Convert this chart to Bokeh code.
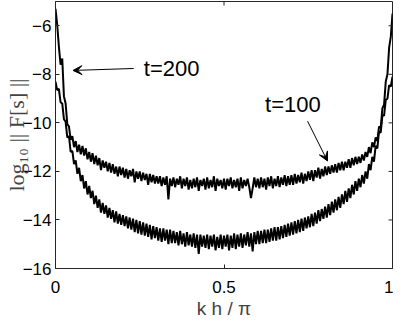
from bokeh.plotting import figure
from bokeh.models import FixedTicker, Label, Arrow, VeeHead, ColumnDataSource
from bokeh.embed import file_html
from bokeh.resources import INLINE

# ---------------- data ----------------
n_pts = 201
kh_over_pi = [i / (n_pts - 1) for i in range(n_pts)]

# t = 100 curve (upper, flatter band)
err_t100 = [
    -5.30, -5.95, -6.85, -7.60, -7.35, -8.90, -9.20, -10.05, -10.15, -10.70,
    -10.55, -11.00, -10.75, -11.20, -10.90, -11.30, -10.95, -11.35, -11.05, -11.50,
    -11.20, -11.60, -11.25, -11.70, -11.35, -11.75, -11.45, -11.95, -11.55, -11.85,
    -11.60, -12.00, -11.65, -12.05, -11.70, -12.10, -11.80, -12.20, -11.80, -12.15,
    -11.85, -12.25, -11.90, -12.30, -11.95, -12.20, -11.90, -12.45, -12.00, -12.30,
    -12.00, -12.40, -12.05, -12.35, -12.10, -12.55, -12.10, -12.45, -12.15, -12.50,
    -12.20, -12.50, -12.20, -12.60, -12.25, -12.55, -12.20, -13.15, -12.30, -12.60,
    -12.25, -12.65, -12.30, -12.55, -12.20, -12.70, -12.30, -12.60, -12.25, -12.75,
    -12.35, -12.70, -12.30, -12.65, -12.25, -12.80, -12.35, -12.60, -12.30, -12.75,
    -12.25, -12.70, -12.35, -12.65, -12.20, -12.80, -12.30, -12.60, -12.35, -12.70,
    -12.30, -12.75, -12.30, -12.60, -12.25, -12.70, -12.35, -12.65, -12.30, -12.80,
    -12.25, -12.70, -12.35, -12.60, -12.30, -12.65, -13.10, -12.70, -12.25, -12.65,
    -12.30, -12.70, -12.25, -12.65, -12.30, -12.75, -12.25, -12.60, -12.20, -12.70,
    -12.30, -12.60, -12.20, -12.65, -12.25, -12.55, -12.15, -12.60, -12.20, -12.55,
    -12.15, -12.55, -12.10, -12.50, -12.15, -12.45, -12.05, -12.50, -12.10, -12.40,
    -12.00, -12.35, -11.95, -12.40, -11.95, -12.25, -11.85, -12.30, -11.90, -12.20,
    -11.80, -12.15, -11.80, -12.10, -11.75, -12.05, -11.70, -12.05, -11.65, -11.95,
    -11.60, -11.95, -11.60, -11.85, -11.50, -11.85, -11.45, -11.75, -11.40, -11.70,
    -11.40, -11.65, -11.30, -11.55, -11.20, -11.40, -11.00, -11.25, -10.80, -11.00,
    -10.60, -10.75, -10.15, -10.20, -9.40, -9.25, -8.30, -8.00, -6.90, -6.45,
    -5.50,
]

# t = 200 curve (lower, deeper band)
err_t200 = [
    -8.30, -8.65, -8.60, -9.15, -9.20, -9.85, -9.95, -10.60, -10.55, -11.20,
    -11.15, -11.70, -11.55, -12.10, -11.85, -12.40, -12.15, -12.70, -12.40, -12.95,
    -12.60, -13.10, -12.80, -13.35, -13.00, -13.50, -13.15, -13.70, -13.30, -13.75,
    -13.40, -13.90, -13.50, -13.95, -13.60, -14.10, -13.65, -14.15, -13.75, -14.20,
    -13.80, -14.25, -13.85, -14.35, -13.90, -14.40, -13.95, -14.50, -14.00, -14.55,
    -14.05, -14.60, -14.10, -14.65, -14.15, -14.70, -14.20, -14.80, -14.25, -14.75,
    -14.30, -14.85, -14.35, -14.90, -14.35, -14.85, -14.40, -15.00, -14.40, -14.95,
    -14.45, -14.95, -14.50, -15.05, -14.45, -15.00, -14.55, -15.10, -14.50, -15.05,
    -14.60, -15.10, -14.55, -15.15, -14.60, -15.40, -14.60, -15.10, -14.65, -15.15,
    -14.60, -15.20, -14.65, -15.10, -14.60, -15.25, -14.70, -15.15, -14.60, -15.20,
    -14.65, -15.10, -14.60, -15.25, -14.65, -15.15, -14.55, -15.20, -14.60, -15.10,
    -14.55, -15.15, -14.60, -15.05, -14.50, -15.10, -14.55, -15.30, -14.50, -15.00,
    -14.45, -15.00, -14.45, -14.95, -14.40, -14.95, -14.40, -14.90, -14.35, -14.85,
    -14.30, -14.85, -14.30, -14.80, -14.25, -14.75, -14.20, -14.70, -14.15, -14.65,
    -14.10, -14.60, -14.05, -14.55, -14.00, -14.50, -13.95, -14.45, -13.90, -14.35,
    -13.85, -14.30, -13.75, -14.25, -13.70, -14.15, -13.60, -14.05, -13.55, -13.95,
    -13.45, -13.90, -13.35, -13.80, -13.25, -13.70, -13.15, -13.60, -13.05, -13.50,
    -12.95, -13.35, -12.80, -13.25, -12.70, -13.10, -12.55, -12.95, -12.40, -12.80,
    -12.30, -12.65, -12.15, -12.50, -12.00, -12.30, -11.70, -11.95, -11.40, -11.60,
    -10.95, -11.05, -10.35, -10.40, -9.70, -9.70, -9.05, -9.00, -8.45, -8.50,
    -8.10,
]

x_ticks = [0, 0.5, 1]
x_tick_labels = ["0", "0.5", "1"]
y_ticks = [-16, -14, -12, -10, -8, -6]

# annotation anchors (data coords)
lab200 = dict(text="t=200", x=0.262, y=-7.76)
arr200 = dict(x_start=0.232, y_start=-7.76, x_end=0.052, y_end=-7.84)
lab100 = dict(text="t=100", x=0.622, y=-9.24)
arr100 = dict(x_start=0.748, y_start=-9.93, x_end=0.807, y_end=-11.57)

# ---------------- figure ----------------
AX = "#262626"
SANS = "Liberation Sans"
X_RANGE = (0, 1)
Y_RANGE = (-16, -5)
W, H = 393, 323
B_LEFT, B_RIGHT, B_TOP, B_BOTTOM = 49, 1, 1, 55
TICK_PX = 4

p = figure(width=W, height=H, x_range=X_RANGE, y_range=Y_RANGE,
           output_backend="svg", toolbar_location=None,
           min_border_left=B_LEFT, min_border_right=B_RIGHT,
           min_border_top=B_TOP, min_border_bottom=B_BOTTOM)
p.grid.visible = False
p.background_fill_color = "white"
p.border_fill_color = "white"
p.outline_line_color = AX
p.outline_line_width = 1

src = ColumnDataSource(dict(x=kh_over_pi, a=err_t100, b=err_t200))
p.line("x", "a", source=src, line_color="black", line_width=2)
p.line("x", "b", source=src, line_color="black", line_width=2)

def style_axis(ax):
    ax.axis_line_color = AX
    ax.major_tick_line_color = AX
    ax.major_tick_in = TICK_PX
    ax.major_tick_out = 0
    ax.minor_tick_line_color = None
    ax.major_label_text_font = SANS
    ax.major_label_text_font_size = "17px"
    ax.major_label_text_color = "black"

xa = p.xaxis[0]
xa.ticker = FixedTicker(ticks=x_ticks)
xa.major_label_overrides = {t: s for t, s in zip(x_ticks, x_tick_labels)}
style_axis(xa)
xa.major_label_standoff = 12
xa.axis_label = "k h / π"
xa.axis_label_text_font = SANS
xa.axis_label_text_font_size = "19px"
xa.axis_label_text_font_style = "normal"
xa.axis_label_standoff = 2

ya = p.yaxis[0]
ya.ticker = FixedTicker(ticks=y_ticks)
style_axis(ya)
ya.major_label_standoff = 4
ya.axis_label = "log₁₀ || F[s] ||"
ya.axis_label_text_font = "Liberation Serif"
ya.axis_label_text_font_size = "22px"
ya.axis_label_text_font_style = "normal"
ya.axis_label_standoff = -9

# inward ticks on the top and right edges of the box (MATLAB style)
frame_w = W - B_LEFT - B_RIGHT
frame_h = H - B_TOP - B_BOTTOM
dx = TICK_PX * (X_RANGE[1] - X_RANGE[0]) / frame_w
dy = TICK_PX * (Y_RANGE[1] - Y_RANGE[0]) / frame_h
p.segment(x0=x_ticks, x1=x_ticks,
          y0=[Y_RANGE[1]] * len(x_ticks), y1=[Y_RANGE[1] - dy] * len(x_ticks),
          line_color=AX, line_width=1)
p.segment(x0=[X_RANGE[1]] * len(y_ticks), x1=[X_RANGE[1] - dx] * len(y_ticks),
          y0=y_ticks, y1=y_ticks, line_color=AX, line_width=1)

for lab in (lab200, lab100):
    p.add_layout(Label(text_font=SANS, text_font_size="22px",
                       text_baseline="middle", text_color="black", **lab))
for arr in (arr200, arr100):
    p.add_layout(Arrow(end=VeeHead(size=9, fill_color="black",
                                   line_color="black", line_width=1),
                       line_color="black", line_width=1, **arr))

open("out.html", "w").write(file_html(p, INLINE))
